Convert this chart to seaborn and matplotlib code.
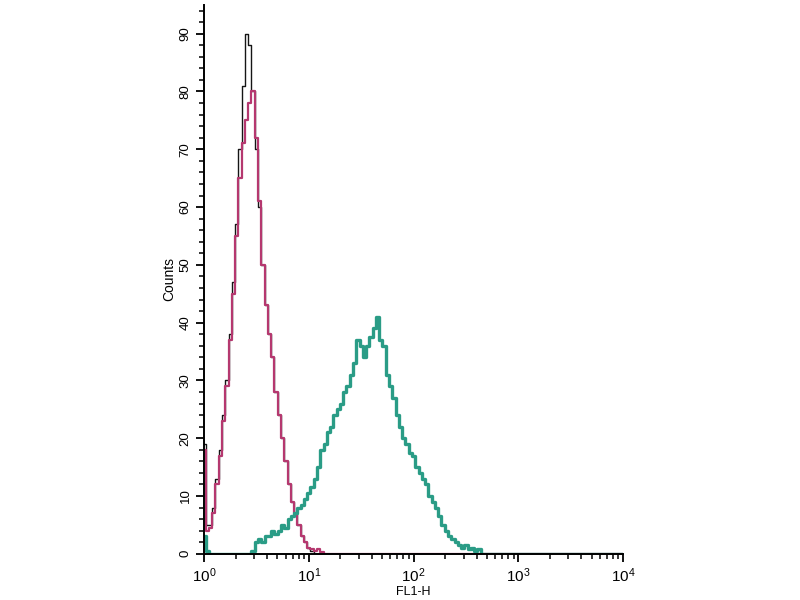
import numpy as np
import pandas as pd
import matplotlib.pyplot as plt
from matplotlib.ticker import MultipleLocator, LogLocator, NullFormatter
import seaborn as sns

sns.set_theme(style="ticks")
plt.rcParams['font.family'] = ['Liberation Sans', 'DejaVu Sans']
plt.rcParams['mathtext.fontset'] = 'custom'
plt.rcParams['mathtext.rm'] = 'Liberation Sans'
plt.rcParams['mathtext.it'] = 'Liberation Sans'

# histogram channels: 32 channels per decade, FL1-H = 10 ** (channel / 32)
CH_PER_DECADE = 32

# isotype / unstained control (black)
black_start = 0
black_counts = [19, 5, 5, 8, 13, 18, 24, 30, 38, 47, 57, 70, 81, 90, 88, 80,
                70, 60, 50, 43, 38, 34, 28, 24, 20, 16, 12, 9, 7, 5, 3, 2,
                1, 0.5, 0]

# second control (magenta)
magenta_start = 0
magenta_counts = [18, 4, 4.5, 7, 12, 17, 23, 29, 37, 45, 55, 65, 71, 75, 78, 80,
                  72, 61, 50, 43, 38, 34, 28, 24, 20, 16, 12, 9, 7, 5, 3, 2,
                  1, 0.8, 0.5, 0.8, 0.3, 0]

# stained sample (teal)
teal_start = 0
teal_counts = [3, 0.5, 0, 0, 0, 0, 0, 0, 0, 0, 0, 0, 0, 0, 0, 0.5,
               2, 2.5, 2, 3, 3, 4, 3.5, 4, 5, 4.5, 6, 6.5, 7, 8, 8.5, 9.5,
               10.5, 11.5, 13, 15, 18, 19, 21, 22, 24, 25, 26, 28, 29, 31, 33, 37,
               36, 34, 36, 37.5, 39, 41, 37, 36, 31, 29, 27, 24, 22, 20, 19, 17.5,
               17, 15, 14, 13, 12, 10, 9, 8, 6.5, 5, 4, 3, 2.5, 2, 1.5, 1,
               1.5, 0.8, 1, 0.5, 0.8, 0]

x_max = 1e4


def to_frame(start, counts):
    ch = start + np.arange(len(counts)) - 0.5
    x = list(10 ** (ch / CH_PER_DECADE)) + [x_max]
    y = list(counts) + [0]
    return pd.DataFrame({"FL1-H": x, "Counts": y})


fig = plt.figure(figsize=(8, 6), dpi=100)
ax = fig.add_axes([0.255, 0.077, 0.524, 0.915])

series = [
    (black_start, black_counts, "#151515", 1.0),
    (magenta_start, magenta_counts, "#b5386f", 1.6),
    (teal_start, teal_counts, "#2a9c86", 2.4),
]
for start, counts, color, lw in series:
    df = to_frame(start, counts)
    sns.lineplot(data=df, x="FL1-H", y="Counts", ax=ax, color=color,
                 linewidth=lw, drawstyle="steps-post", estimator=None,
                 sort=False)

ax.set_xscale("log")
ax.set_xlim(1, 1e4)
ax.set_ylim(0, 95)

ax.xaxis.set_minor_locator(LogLocator(base=10, subs=np.arange(2, 10), numticks=20))
ax.xaxis.set_minor_formatter(NullFormatter())
ax.set_xticks([1, 10, 100, 1000, 10000])
ax.set_xticklabels(["$10^0$", "$10^1$", "$10^2$", "$10^3$", "$10^4$"],
                   fontsize=11, color="black")

ax.yaxis.set_minor_locator(MultipleLocator(2))
ax.set_yticks(range(0, 100, 10))
ax.set_yticklabels([str(v) for v in range(0, 100, 10)], rotation=90,
                   va="center", fontsize=9.5, color="black")

ax.tick_params(axis="both", which="major", direction="out", length=6,
               width=1.3, color="black", pad=3)
ax.tick_params(axis="both", which="minor", direction="out", length=3.5,
               width=1.1, color="black")

for side in ["left", "bottom"]:
    ax.spines[side].set_linewidth(1.4)
    ax.spines[side].set_color("black")
sns.despine(ax=ax)

ax.set_xlabel("FL1-H", fontsize=9, labelpad=1, color="black")
ax.set_ylabel("Counts", fontsize=10, labelpad=2, color="black")
ax.grid(False)

fig.savefig("out.png", dpi=100)
